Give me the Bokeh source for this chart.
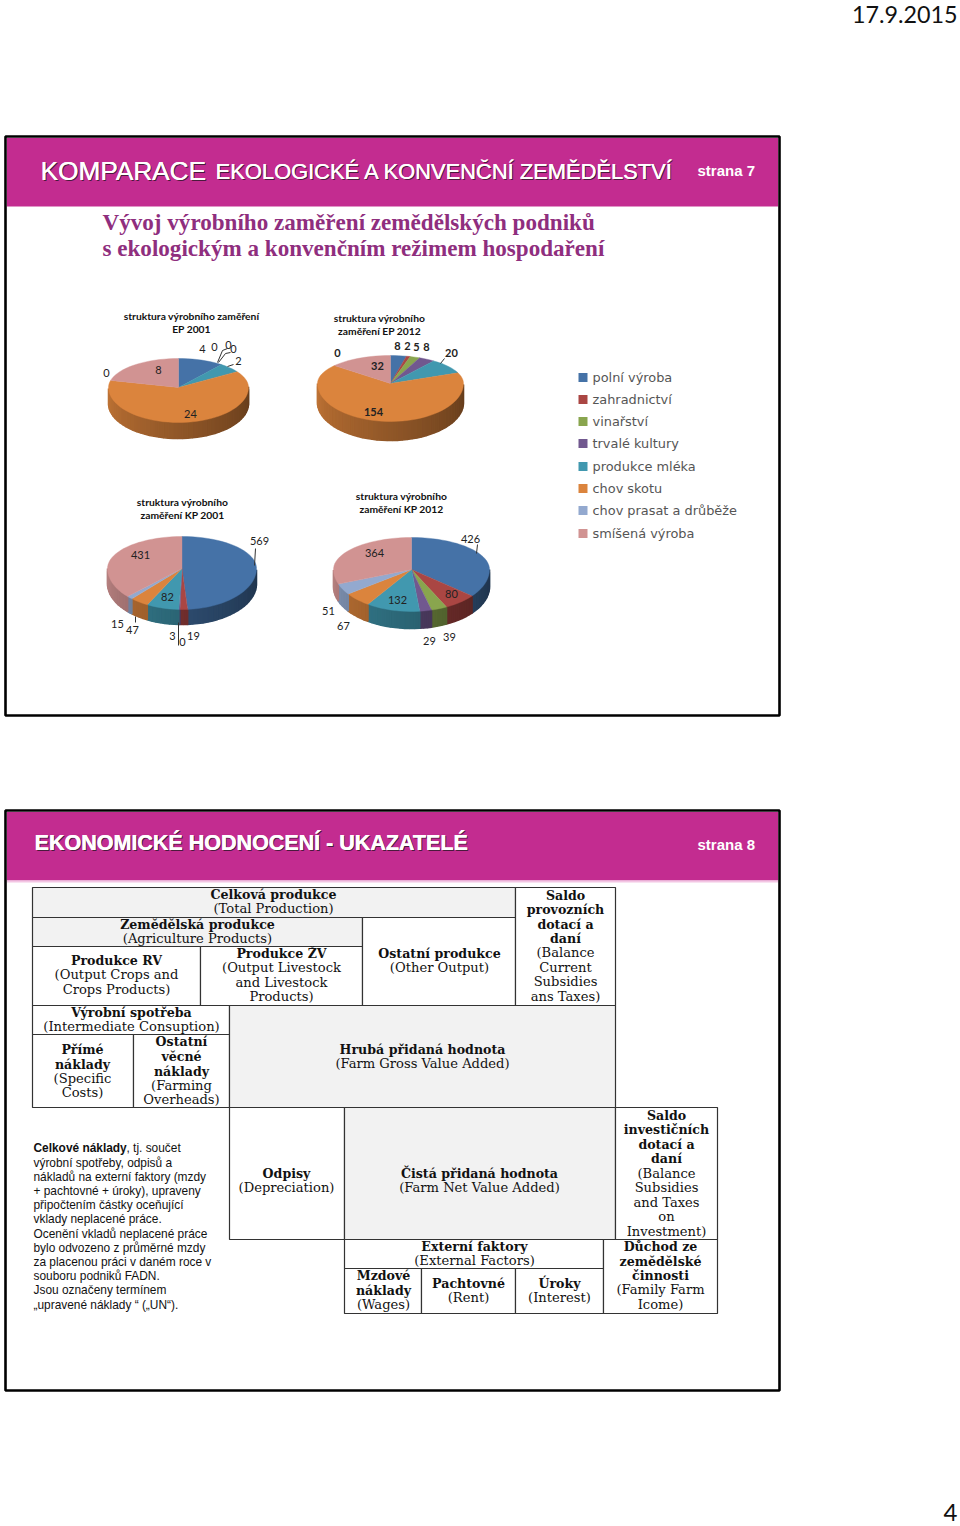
from math import sin, cos, radians
from bokeh.plotting import figure
from bokeh.models import Range1d
from bokeh.core.properties import value
from bokeh.embed import file_html
from bokeh.resources import INLINE

# ---------- data ----------
categories = ["polní výroba", "zahradnictví", "vinařství", "trvalé kultury",
              "produkce mléka", "chov skotu", "chov prasat a drůběže", "smíšená výroba"]
colors = ["#4572A7", "#AA4643", "#89A54E", "#71588F", "#4198AF", "#DB843D", "#93A9CF", "#D19392"]

ep2001 = [4, 0, 0, 0, 2, 24, 0, 8]
ep2012 = [8, 2, 5, 8, 20, 154, 0, 32]
kp2001 = [569, 19, 0, 3, 82, 47, 15, 431]
kp2012 = [426, 80, 39, 29, 132, 67, 51, 364]

# ---------- layout ----------
# values, cx, cy, rx, ry_up, ry_down, depth
pies = [
    (ep2001, 178, 387, 70, 29, 35, 16),
    (ep2012, 390, 383, 73, 28, 38, 19),
    (kp2001, 181.5, 568, 74.5, 32, 41, 15),
    (kp2012, 411, 569, 78, 32, 42, 17),
]
pie_titles = [
    ("struktura výrobního zaměření", 191, 316), ("EP 2001", 191, 329),
    ("struktura výrobního", 379, 318), ("zaměření EP 2012", 379, 331),
    ("struktura výrobního", 182, 502), ("zaměření KP 2001", 182, 515),
    ("struktura výrobního", 401, 496), ("zaměření KP 2012", 401, 509),
]
# (text, x, y, bold)
pie_labels = [
    ("4", 202, 349, 0), ("0", 214, 347, 0), ("0", 228, 345, 0), ("0", 233, 349, 0), ("2", 238, 361, 0),
    ("24", 190, 414, 0), ("0", 106, 373, 0), ("8", 158, 370, 0),
    ("8", 397, 346, 1), ("2", 407, 346, 1), ("5", 416, 347, 1), ("8", 426, 347, 1), ("20", 451, 353, 1),
    ("154", 373, 412, 1), ("0", 337, 353, 1), ("32", 377, 366, 1),
    ("569", 259, 541, 0), ("19", 193, 636, 0), ("0", 182, 642, 0), ("3", 172, 636, 0), ("82", 167, 597, 0),
    ("47", 132, 630, 0), ("15", 117, 624, 0), ("431", 140, 555, 0),
    ("426", 470, 539, 0), ("80", 451, 594, 0), ("39", 449, 637, 0), ("29", 429, 641, 0), ("132", 397, 600, 0),
    ("67", 343, 626, 0), ("51", 328, 611, 0), ("364", 374, 553, 0),
]
leaders = [
    ([217, 222, 227], [362, 350, 348]), ([218, 225, 230], [362, 353, 352]), ([227, 233], [366, 364]),
    ([440, 444], [363, 358]), ([255, 254], [548, 565]), ([135, 135], [616, 622]), ([178, 178], [622, 645]),
    ([477, 476], [544, 553]),
]

# table cells: x0, x1, y0, y1, shaded
cells = [
    (32, 515, 887, 917, 1), (32, 362, 917, 946, 1), (32, 200, 946, 1005, 0), (200, 362, 946, 1005, 0),
    (362, 515, 917, 1005, 0), (515, 615, 887, 1005, 0), (32, 229, 1005, 1034, 0), (32, 133, 1034, 1107, 0),
    (133, 229, 1034, 1107, 0), (229, 615, 1005, 1107, 1), (229, 344, 1107, 1239, 0), (344, 615, 1107, 1239, 1),
    (615, 717, 1107, 1239, 0), (344, 603, 1239, 1268, 0), (344, 421, 1268, 1313, 0), (421, 515, 1268, 1313, 0),
    (515, 603, 1268, 1313, 0), (603, 717, 1239, 1313, 0),
]
# (center x, [(line, y, bold)...])
cell_texts = [
    (273, [("Celková produkce", 895, 1), ("(Total Production)", 909, 0)]),
    (197, [("Zemědělská produkce", 925, 1), ("(Agriculture Products)", 939, 0)]),
    (116, [("Produkce RV", 961, 1), ("(Output Crops and", 975, 0), ("Crops Products)", 990, 0)]),
    (281, [("Produkce ŽV", 954, 1), ("(Output Livestock", 968, 0), ("and Livestock", 983, 0), ("Products)", 997, 0)]),
    (439, [("Ostatní produkce", 954, 1), ("(Other Output)", 968, 0)]),
    (565, [("Saldo", 896, 1), ("provozních", 910, 1), ("dotací a", 925, 1), ("daní", 939, 1), ("(Balance", 953, 0),
           ("Current", 968, 0), ("Subsidies", 982, 0), ("ans Taxes)", 997, 0)]),
    (131, [("Výrobní spotřeba", 1013, 1), ("(Intermediate Consuption)", 1027, 0)]),
    (82, [("Přímé", 1050, 1), ("náklady", 1065, 1), ("(Specific", 1079, 0), ("Costs)", 1093, 0)]),
    (181, [("Ostatní", 1042, 1), ("věcné", 1057, 1), ("náklady", 1072, 1), ("(Farming", 1086, 0), ("Overheads)", 1100, 0)]),
    (422, [("Hrubá přidaná hodnota", 1050, 1), ("(Farm Gross Value Added)", 1064, 0)]),
    (286, [("Odpisy", 1174, 1), ("(Depreciation)", 1188, 0)]),
    (479, [("Čistá přidaná hodnota", 1174, 1), ("(Farm Net Value Added)", 1188, 0)]),
    (666, [("Saldo", 1116, 1), ("investičních", 1130, 1), ("dotací a", 1145, 1), ("daní", 1159, 1), ("(Balance", 1174, 0),
           ("Subsidies", 1188, 0), ("and Taxes", 1203, 0), ("on", 1217, 0), ("Investment)", 1232, 0)]),
    (474, [("Externí faktory", 1247, 1), ("(External Factors)", 1261, 0)]),
    (383, [("Mzdové", 1276, 1), ("náklady", 1291, 1), ("(Wages)", 1305, 0)]),
    (468, [("Pachtovné", 1284, 1), ("(Rent)", 1298, 0)]),
    (559, [("Úroky", 1284, 1), ("(Interest)", 1298, 0)]),
    (660, [("Důchod ze", 1247, 1), ("zemědělské", 1262, 1), ("činnosti", 1276, 1), ("(Family Farm", 1290, 0), ("Icome)", 1305, 0)]),
]
note_lines = [
    (", tj. součet", 1148), ("výrobní spotřeby, odpisů a", 1163), ("nákladů na externí faktory (mzdy", 1177),
    ("+ pachtovné + úroky), upraveny", 1191), ("připočtením částky oceňující", 1205), ("vklady neplacené práce.", 1219),
    ("Ocenění vkladů neplacené práce", 1234), ("bylo odvozeno z průměrné mzdy", 1248),
    ("za placenou práci v daném roce v", 1262), ("souboru podniků FADN.", 1276), ("Jsou označeny termínem", 1290),
    ("„upravené náklady “ („UN“).", 1305),
]
legend_y = [377, 399, 421, 443, 466, 488, 510, 533]

# ---------- drawing ----------
p = figure(width=960, height=1526, x_range=Range1d(0, 960), y_range=Range1d(1526, 0),
           output_backend="svg", toolbar_location=None, min_border=0,
           background_fill_color="white", border_fill_color="white")
p.axis.visible = False
p.grid.visible = False
p.outline_line_color = None


def txt(x, y, s, size, font="Liberation Sans", bold=False, color="#000000", align="left"):
    p.text([x], [y - 1], text=[s], text_font=value(font), text_font_size=f"{size}px",
           text_font_style="bold" if bold else "normal", text_color=color,
           text_align=align, text_baseline="middle")


def shade(hexc, f):
    r, g, b = [int(hexc[i:i + 2], 16) for i in (1, 3, 5)]
    return "#%02x%02x%02x" % (int(r * f), int(g * f), int(b * f))


def slide(y0, y1):
    p.quad(left=[5], right=[779], top=[y0], bottom=[y1], fill_color="white", line_color="#000000", line_width=2.6)
    p.quad(left=[6.5], right=[777.5], top=[y0 + 1.5], bottom=[y0 + 70], fill_color="#C32C90", line_color=None)


slide(136, 715)
slide(810, 1390)
p.quad(left=[6.5], right=[777.5], top=[880], bottom=[882], fill_color="#F3C6E4", line_color=None)

# headers (shadow + text)
for dx, c in ((1.2, "#4a1a3c"), (0.3, "#FFFFFF"), (0, "#FFFFFF")):
    txt(40 + dx, 171 + dx, "KOMPARACE", 26.2, color=c)
    txt(215 + dx, 172 + dx, "EKOLOGICKÉ A KONVENČNÍ ZEMĚDĚLSTVÍ", 21.9, color=c)
    txt(34 + dx, 843 + dx, "EKONOMICKÉ HODNOCENÍ - UKAZATELÉ", 21.5, bold=True, color=c)
txt(697, 171, "strana 7", 15, bold=True, color="#FFFFFF")
txt(697, 845, "strana 8", 15, bold=True, color="#FFFFFF")
txt(102, 222.5, "Vývoj výrobního zaměření zemědělských podniků", 23.1, font="Liberation Serif", bold=True, color="#8F2E7E")
txt(102, 248.5, "s ekologickým a konvenčním režimem hospodaření", 23.1, font="Liberation Serif", bold=True, color="#8F2E7E")
txt(957, 15.2, "17.9.2015", 23.3, font="Lato", align="right", color="#111111")
txt(957, 1513, "4", 24, font="Lato", align="right", color="#111111")

# pies, angles come from the values
for vals, cx, cy, rx, ru, rd, depth in pies:
    total = sum(vals)

    def pt(a):
        c = cos(radians(a))
        return cx + rx * sin(radians(a)), cy - (ru if c > 0 else rd) * c

    a = 0.0
    wx, wy, wc, tx, ty, tc = [], [], [], [], [], []
    for v, col in zip(vals, colors):
        if v == 0:
            continue
        a1 = a + 360.0 * v / total
        n = max(2, int((a1 - a) / 4) + 1)
        arc = [a + (a1 - a) * i / n for i in range(n + 1)]
        pts = [pt(t) for t in arc]
        tx.append([cx] + [q[0] for q in pts])
        ty.append([cy] + [q[1] for q in pts])
        tc.append(col)
        for t0, t1 in zip(arc[:-1], arc[1:]):
            if 90 <= (t0 + t1) / 2 <= 270:
                (x0, y0), (x1, y1) = pt(t0), pt(t1)
                wx.append([x0, x1, x1, x0])
                wy.append([y0, y1, y1 + depth, y0 + depth])
                f = 0.45 + 0.42 * ((t0 + t1) / 2 - 90) / 180
                wc.append(shade(col, f))
        a = a1
    p.patches(wx, wy, fill_color=wc, line_color=wc, line_width=1.6)
    p.patches(tx, ty, fill_color=tc, line_color=tc, line_width=0.4)

for s, x, y in pie_titles:
    txt(x, y, s, 10.3, font="Lato", bold=True, align="center", color="#111111")
for s, x, y, b in pie_labels:
    txt(x, y, s, 11, font="Lato", bold=bool(b), align="center", color="#222222")
for xs, ys in leaders:
    p.line(xs, ys, line_color="#333333", line_width=1)

# legend
for name, col, y in zip(categories, colors, legend_y):
    p.quad(left=[578], right=[587], top=[y - 4.5], bottom=[y + 4.5], fill_color=col, line_color=None)
    txt(592, y + 1, name, 12.9, font="DejaVu Sans", color="#555555")

# table
for x0, x1, y0, y1, sh in cells:
    p.quad(left=[x0], right=[x1], top=[y0], bottom=[y1], fill_color="#F2F2F2" if sh else "#FFFFFF",
           line_color="#333333", line_width=1.2)
for cx, lines in cell_texts:
    for s, y, b in lines:
        txt(cx, y, s, 12.6 if b else 13.1, font="DejaVu Serif", bold=bool(b), align="center", color="#111111")

# note
txt(33, 1148, "Celkové náklady", 11.9, bold=True, color="#111111")
txt(126, 1148, note_lines[0][0], 11.9, color="#111111")
for s, y in note_lines[1:]:
    txt(33, y, s, 11.9, color="#111111")

open("out.html", "w").write(file_html(p, INLINE))
